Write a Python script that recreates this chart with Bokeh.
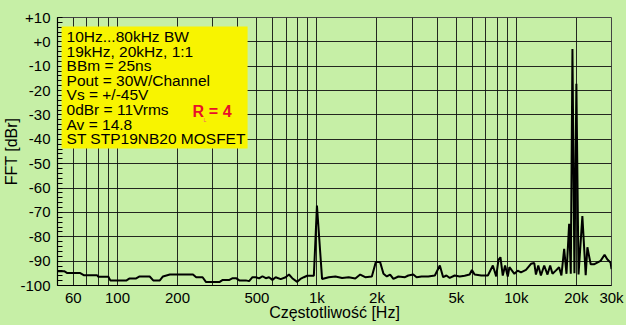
from bokeh.plotting import figure
from bokeh.models import FixedTicker, Label, BoxAnnotation, GlobalInlineStyleSheet
from bokeh.embed import file_html
from bokeh.resources import INLINE

# ---- data ----
freq_hz = [50, 54, 56, 65, 68, 79, 80, 90, 92, 111,
           115, 124, 129, 145, 151, 163, 169, 183, 239, 248,
           267, 278, 324, 337, 364, 378, 393, 408, 440, 457,
           475, 494, 513, 533, 554, 575, 598, 621, 658, 697,
           724, 752, 796, 827, 860, 893, 965, 1000, 1061, 1146,
           1238, 1337, 1443, 1557, 1648, 1746, 1885, 1973, 2074, 2156,
           2241, 2328, 2418, 2561, 2765, 2872, 3042, 3161, 3348, 3615,
           3902, 4133, 4294, 4460, 4633, 4907, 5198, 5505, 5831, 5987,
           6176, 6667, 7197, 7623, 7924, 8133, 8322, 8548, 8781, 9056,
           9230, 9776, 10155, 10549, 11177, 11842, 12301, 12537, 12880, 13278,
           13793, 14327, 14774, 15178, 15767, 16378, 16824, 17367, 17840, 18394,
           18749, 19111, 19550, 20000, 20500, 21430, 22270, 22710, 23590, 24500,
           25450, 26440, 27690, 28560, 29670, 30000]
level_dbr = [-94.1, -94.1, -94.9, -94.9, -95.8, -95.8, -96.4, -96.4, -97.9, -97.9,
             -97.1, -97.1, -96.3, -96.3, -97.9, -97.9, -96.3, -95.5, -95.5, -96.6,
             -96.6, -98.6, -98.6, -97.7, -97.7, -97.0, -97.0, -97.9, -97.9, -98.2,
             -96.6, -96.6, -97.1, -96.2, -97.0, -96.6, -97.7, -96.6, -97.4, -96.6,
             -95.5, -97.0, -98.5, -97.3, -96.6, -96.0, -96.0, -67.2, -97.3, -96.6,
             -96.3, -96.9, -96.6, -97.1, -95.5, -96.6, -96.3, -90.4, -90.4, -95.2,
             -96.3, -95.5, -97.3, -96.3, -96.6, -95.9, -95.5, -96.6, -96.3, -96.3,
             -95.9, -91.8, -96.6, -95.9, -96.9, -95.9, -96.3, -96.0, -95.5, -93.6,
             -95.5, -95.9, -95.9, -91.8, -96.3, -89.5, -88.4, -95.9, -91.8, -96.3,
             -92.5, -95.2, -93.9, -94.6, -93.6, -91.1, -90.8, -95.5, -91.8, -95.9,
             -91.8, -95.5, -91.8, -95.2, -93.9, -92.5, -95.9, -85.0, -95.2, -74.7,
             -95.2, -2.9, -95.0, -17.2, -95.5, -71.5, -95.8, -84.3, -91.3, -91.3,
             -90.6, -89.9, -87.4, -89.2, -90.6, -93.3]

x_tick_values = [60, 100, 200, 500, 1000, 2000, 5000, 10000, 20000, 30000]
x_tick_labels = ["60", "100", "200", "500", "1k", "2k", "5k", "10k", "20k", "30k"]
x_grid_extra = [70, 80, 90, 300, 400, 600, 700, 800, 900,
                3000, 4000, 6000, 7000, 8000, 9000]
y_tick_values = [-100, -90, -80, -70, -60, -50, -40, -30, -20, -10, 0, 10]
y_tick_labels = ["-100", "-90", "-80", "-70", "-60", "-50", "-40", "-30",
                 "-20", "-10", "+0", "+10"]
y_minor_values = list(range(-100, 11, 2))

info_lines = ["10Hz...80kHz BW", "19kHz, 20kHz, 1:1", "BBm = 25ns",
              "Pout = 30W/Channel", "Vs = +/-45V", "0dBr = 11Vrms",
              "Av = 14.8", "ST STP19NB20 MOSFET"]

BG = "#c6efa6"
FONT = "Liberation Sans"

p = figure(width=626, height=325, x_axis_type="log",
           x_range=(50, 30000), y_range=(-100, 10),
           output_backend="svg", toolbar_location=None,
           min_border_left=55, min_border_right=15,
           min_border_top=17, min_border_bottom=40,
           background_fill_color=BG, border_fill_color=BG)
p.stylesheets = [GlobalInlineStyleSheet(css="body { background-color: %s; }" % BG)]
p.outline_line_color = "#444444"

xt = FixedTicker(ticks=x_tick_values, minor_ticks=x_grid_extra)
yt = FixedTicker(ticks=y_tick_values, minor_ticks=y_minor_values)
p.xaxis.ticker = xt
p.yaxis.ticker = yt
p.xgrid.ticker = xt
p.ygrid.ticker = yt
p.xaxis.major_label_overrides = {v: l for v, l in zip(x_tick_values, x_tick_labels)}
p.yaxis.major_label_overrides = {v: l for v, l in zip(y_tick_values, y_tick_labels)}

for ax in (p.xaxis[0], p.yaxis[0]):
    ax.axis_line_color = "black"
    ax.axis_line_width = 1.2
    ax.major_tick_in = 0
    ax.major_tick_out = 0
    ax.major_label_text_font = FONT
    ax.major_label_text_font_size = "15px"
    ax.major_label_text_color = "black"
    ax.axis_label_text_font = FONT
    ax.axis_label_text_font_size = "16px"
    ax.axis_label_text_font_style = "normal"
    ax.axis_label_text_color = "black"

p.xaxis.minor_tick_in = 0
p.xaxis.minor_tick_out = 0
p.yaxis.minor_tick_in = 5
p.yaxis.minor_tick_out = 0
p.yaxis.minor_tick_line_color = "black"
p.xaxis.major_label_standoff = 3
p.yaxis.major_label_standoff = 7
p.xaxis.axis_label = "Częstotliwość [Hz]"
p.yaxis.axis_label = "FFT [dBr]"
p.xaxis.axis_label_standoff = -5
p.yaxis.axis_label_standoff = -3

p.xgrid.grid_line_color = "#111111"
p.xgrid.minor_grid_line_color = "#111111"
p.ygrid.grid_line_color = "#111111"
p.ygrid.minor_grid_line_color = None
for g in (p.xgrid[0], p.ygrid[0]):
    g.grid_line_width = 1
    g.grid_line_alpha = 0.9
p.xgrid.minor_grid_line_alpha = 0.9

p.line(freq_hz, level_dbr, line_color="black", line_width=2)

box = BoxAnnotation(left=52.4, right=449, bottom=-43.8, top=6.3,
                    fill_color="#f8f400", fill_alpha=1.0, line_color=None)
p.add_layout(box)

for i, t in enumerate(info_lines):
    p.add_layout(Label(x=55.5, y=2.1 - 5.97 * i, text=t, text_baseline="middle",
                       text_font=FONT, text_font_size="15.5px", text_color="black"))

p.add_layout(Label(x=238, y=-28.6, text="R", text_baseline="middle",
                   text_font=FONT, text_font_size="16px", text_font_style="bold",
                   text_color="#e8102a"))
p.add_layout(Label(x=270, y=-32.2, text="L", text_baseline="middle",
                   text_font=FONT, text_font_size="5px", text_color="#ee5577"))
p.add_layout(Label(x=287, y=-28.6, text="= 4", text_baseline="middle",
                   text_font=FONT, text_font_size="16px", text_font_style="bold",
                   text_color="#e8102a"))

open("out.html", "w").write(file_html(p, INLINE))
